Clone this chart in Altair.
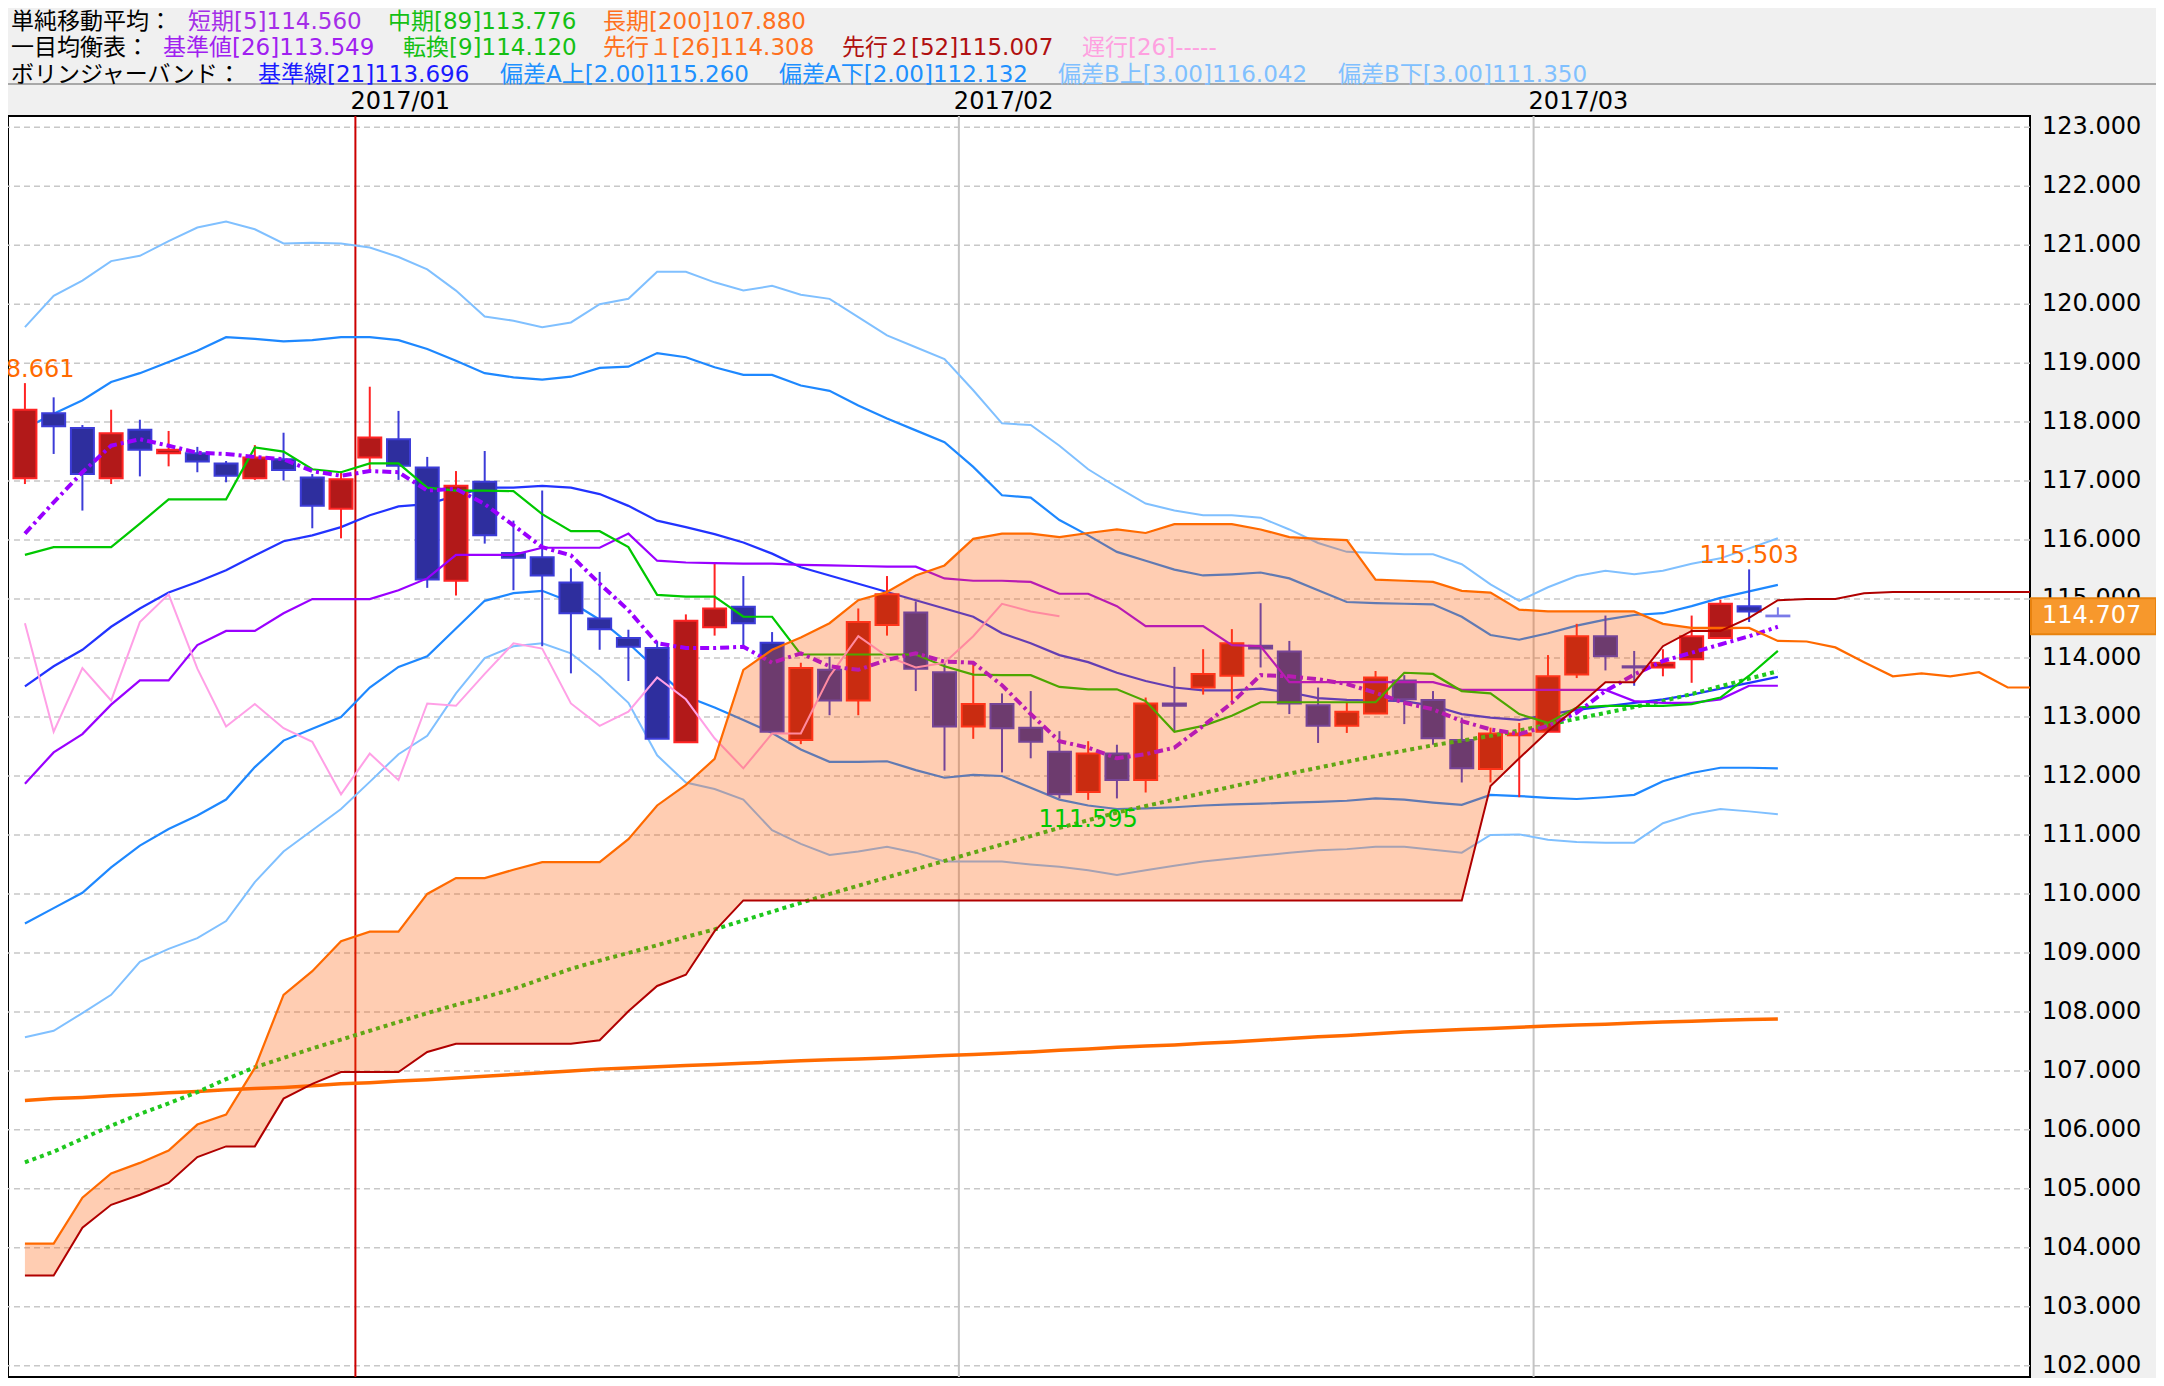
import altair as alt
import pandas as pd

# ---------------- data ----------------
opens = [117.05, 118.15, 117.90, 117.05, 117.87, 117.47, 117.47, 117.30, 117.05, 117.37,
         117.06, 116.53, 117.40, 117.71, 117.23, 115.31, 116.99, 115.78, 115.71, 115.28,
         114.67, 114.34, 114.17, 112.57, 114.52, 114.87, 114.26, 112.61, 113.80, 113.28,
         114.56, 114.77, 113.76, 112.84, 113.22, 112.82, 112.41, 111.73, 112.38, 111.93,
         113.23, 113.50, 113.70, 114.21, 114.11, 113.20, 112.85, 113.06, 113.62, 113.29,
         112.61, 112.12, 112.69, 112.75, 113.72, 114.37, 113.86, 113.84, 113.98, 114.34,
         114.88, 114.72]
highs = [118.661, 118.42, 117.95, 118.21, 118.04, 117.85, 117.58, 117.34, 117.61, 117.82,
         117.12, 117.17, 118.60, 118.19, 117.41, 117.17, 117.51, 116.33, 116.84, 115.52,
         115.46, 114.48, 114.28, 114.74, 115.60, 115.39, 114.44, 113.92, 114.02, 114.84,
         115.39, 114.96, 113.92, 113.92, 113.40, 113.44, 112.76, 112.59, 112.53, 113.33,
         113.85, 114.15, 114.49, 114.93, 114.29, 113.50, 113.24, 113.78, 113.71, 113.44,
         112.99, 112.82, 112.90, 114.05, 114.58, 114.72, 114.12, 114.15, 114.72, 114.99,
         115.503, 114.86]
lows = [116.95, 117.46, 116.50, 116.95, 117.08, 117.25, 117.15, 116.98, 117.02, 117.01,
        116.20, 116.03, 117.17, 117.02, 115.19, 115.06, 115.94, 115.15, 114.20, 113.74,
        114.14, 113.61, 112.63, 112.57, 114.38, 114.20, 112.75, 112.54, 113.03, 113.03,
        114.38, 113.44, 112.09, 112.63, 112.06, 112.30, 111.62, 111.595, 111.62, 111.72,
        112.75, 113.38, 113.21, 113.84, 113.05, 112.56, 112.73, 113.05, 112.88, 112.53,
        111.89, 111.89, 111.64, 112.75, 113.66, 113.79, 113.53, 113.69, 113.58, 114.34,
        114.61, 114.70]
closes = [118.21, 117.93, 117.12, 117.81, 117.53, 117.53, 117.33, 117.09, 117.40, 117.19,
          116.58, 117.03, 117.74, 117.26, 115.33, 116.92, 116.08, 115.70, 115.40, 114.76,
          114.49, 114.19, 112.63, 114.63, 114.84, 114.59, 112.75, 113.83, 113.28, 114.61,
          115.08, 113.82, 112.84, 113.22, 112.81, 112.58, 111.69, 112.38, 111.93, 113.23,
          113.19, 113.73, 114.25, 114.16, 113.23, 112.85, 113.09, 113.67, 113.30, 112.64,
          112.13, 112.72, 112.72, 113.69, 114.37, 114.03, 113.84, 113.92, 114.37, 114.92,
          114.79, 114.707]

sma5 = [116.11, 116.64, 117.15, 117.60, 117.71, 117.60, 117.48, 117.46, 117.41, 117.37,
        117.17, 117.09, 117.17, 117.15, 116.84, 116.87, 116.61, 116.25, 115.88, 115.74,
        115.26, 114.81, 114.25, 114.17, 114.17, 114.19, 113.92, 114.08, 113.86, 113.80,
        113.97, 114.08, 113.94, 113.92, 113.54, 113.05, 112.59, 112.48, 112.30, 112.37,
        112.48, 112.85, 113.24, 113.71, 113.69, 113.64, 113.56, 113.41, 113.24, 113.13,
        112.93, 112.79, 112.71, 112.85, 113.07, 113.44, 113.72, 113.95, 114.09, 114.23,
        114.37, 114.53]
sma89 = [105.45, 105.63, 105.85, 106.07, 106.27, 106.45, 106.64, 106.86, 107.06, 107.22,
         107.38, 107.53, 107.68, 107.83, 107.98, 108.12, 108.25, 108.39, 108.56, 108.73,
         108.87, 109.00, 109.13, 109.27, 109.40, 109.55, 109.70, 109.85, 110.00, 110.14,
         110.28, 110.42, 110.56, 110.70, 110.84, 110.98, 111.12, 111.25, 111.38, 111.49,
         111.60, 111.71, 111.82, 111.93, 112.04, 112.14, 112.24, 112.34, 112.43, 112.52,
         112.60, 112.68, 112.77, 112.87, 112.97, 113.07, 113.17, 113.27, 113.39, 113.52,
         113.65, 113.776]
sma200 = [106.50, 106.53, 106.55, 106.58, 106.60, 106.63, 106.65, 106.68, 106.70, 106.72,
          106.75, 106.78, 106.80, 106.83, 106.85, 106.88, 106.91, 106.94, 106.97, 107.00,
          107.03, 107.05, 107.07, 107.09, 107.11, 107.13, 107.15, 107.17, 107.19, 107.20,
          107.22, 107.24, 107.26, 107.28, 107.30, 107.32, 107.35, 107.37, 107.40, 107.42,
          107.44, 107.47, 107.49, 107.52, 107.55, 107.58, 107.60, 107.63, 107.66, 107.68,
          107.70, 107.72, 107.74, 107.76, 107.78, 107.79, 107.81, 107.83, 107.84, 107.86,
          107.87, 107.88]

kijun = [111.87, 112.40, 112.71, 113.21, 113.62, 113.62, 114.22, 114.46, 114.46, 114.76,
         115.00, 115.00, 115.00, 115.15, 115.35, 115.75, 115.75, 115.75, 115.87, 115.87,
         115.87, 116.11, 115.65, 115.62, 115.61, 115.60, 115.60, 115.58, 115.57, 115.56,
         115.55, 115.55, 115.35, 115.31, 115.31, 115.29, 115.09, 115.09, 114.88, 114.54,
         114.54, 114.54, 114.22, 114.20, 113.59, 113.59, 113.59, 113.59, 113.59, 113.59,
         113.46, 113.46, 113.46, 113.46, 113.46, 113.46, 113.27, 113.24, 113.24, 113.30,
         113.53, 113.53]
tenkan = [115.75, 115.88, 115.88, 115.88, 116.28, 116.69, 116.69, 116.69, 117.57, 117.50,
          117.20, 117.15, 117.30, 117.30, 116.89, 116.84, 116.84, 116.83, 116.44, 116.15,
          116.15, 115.88, 115.07, 115.04, 115.04, 114.70, 114.70, 114.06, 114.06, 114.06,
          114.06, 114.06, 113.86, 113.72, 113.71, 113.71, 113.51, 113.47, 113.47, 113.27,
          112.75, 112.85, 113.02, 113.25, 113.25, 113.25, 113.25, 113.25, 113.75, 113.73,
          113.44, 113.40, 113.05, 112.90, 113.16, 113.19, 113.19, 113.19, 113.22, 113.33,
          113.70, 114.12]
senkou1 = [104.07, 104.07, 104.85, 105.26, 105.44, 105.65, 106.09, 106.26, 107.05, 108.29,
           108.69, 109.20, 109.36, 109.36, 110.00, 110.27, 110.27, 110.41, 110.54, 110.54,
           110.54, 110.93, 111.50, 111.85, 112.29, 113.80, 114.14, 114.35, 114.59, 114.98,
           115.12, 115.40, 115.57, 116.02, 116.11, 116.11, 116.05, 116.12, 116.18, 116.12,
           116.27, 116.27, 116.27, 116.18, 116.05, 116.02, 116.00, 115.33, 115.31, 115.29,
           115.14, 115.11, 114.82, 114.79, 114.79, 114.79, 114.79, 114.58, 114.51, 114.51,
           114.51, 114.29, 114.28, 114.18, 113.93, 113.69, 113.74, 113.69, 113.76, 113.50,
           113.50]
senkou2 = [103.53, 103.53, 104.34, 104.73, 104.90, 105.10, 105.54, 105.72, 105.72, 106.53,
           106.78, 106.98, 106.98, 106.98, 107.32, 107.46, 107.46, 107.46, 107.46, 107.46,
           107.52, 108.01, 108.44, 108.63, 109.37, 109.89, 109.89, 109.89, 109.89, 109.89,
           109.89, 109.89, 109.89, 109.89, 109.89, 109.89, 109.89, 109.89, 109.89, 109.89,
           109.89, 109.89, 109.89, 109.89, 109.89, 109.89, 109.89, 109.89, 109.89, 109.89,
           109.89, 111.83, 112.30, 112.76, 113.16, 113.59, 113.59, 114.20, 114.46, 114.46,
           114.68, 114.98, 115.00, 115.00, 115.10, 115.12, 115.12, 115.12, 115.12, 115.12,
           115.12]

bb_mid = [113.52, 113.86, 114.14, 114.53, 114.84, 115.11, 115.29, 115.49, 115.74, 115.98,
          116.08, 116.22, 116.42, 116.57, 116.61, 116.75, 116.89, 116.89, 116.92, 116.89,
          116.78, 116.58, 116.33, 116.22, 116.10, 115.96, 115.77, 115.54, 115.40, 115.26,
          115.12, 114.98, 114.84, 114.70, 114.42, 114.25, 114.05, 113.93, 113.75, 113.61,
          113.50, 113.45, 113.45, 113.48, 113.42, 113.32, 113.29, 113.28, 113.27, 113.19,
          113.05, 112.99, 112.95, 113.04, 113.12, 113.18, 113.24, 113.30, 113.38, 113.48,
          113.58, 113.68]
bb_up2 = [117.89, 118.14, 118.37, 118.68, 118.83, 119.02, 119.21, 119.44, 119.41, 119.37,
          119.39, 119.44, 119.44, 119.39, 119.24, 119.04, 118.83, 118.76, 118.72, 118.77,
          118.92, 118.94, 119.17, 119.10, 118.93, 118.80, 118.80, 118.62, 118.53, 118.28,
          118.06, 117.86, 117.66, 117.24, 116.76, 116.72, 116.34, 116.08, 115.80, 115.65,
          115.50, 115.40, 115.42, 115.45, 115.35, 115.15, 114.95, 114.93, 114.92, 114.91,
          114.70, 114.39, 114.31, 114.42, 114.55, 114.65, 114.73, 114.76, 114.88, 115.02,
          115.13, 115.24]
bb_dn2 = [109.50, 109.76, 110.02, 110.45, 110.82, 111.10, 111.33, 111.60, 112.15, 112.60,
          112.80, 113.00, 113.50, 113.85, 114.03, 114.50, 114.97, 115.10, 115.14, 114.95,
          114.65, 114.25, 113.80, 113.35, 113.16, 112.95, 112.73, 112.45, 112.24, 112.24,
          112.25, 112.10, 111.97, 112.02, 112.00, 111.80, 111.60, 111.50, 111.44, 111.45,
          111.47, 111.50, 111.52, 111.53, 111.55, 111.56, 111.58, 111.62, 111.60, 111.55,
          111.51, 111.68, 111.66, 111.63, 111.61, 111.64, 111.68, 111.91, 112.05, 112.14,
          112.14, 112.13]
bb_up3 = [119.61, 120.14, 120.40, 120.73, 120.82, 121.07, 121.30, 121.40, 121.27, 121.03,
          121.04, 121.03, 120.96, 120.80, 120.59, 120.23, 119.79, 119.72, 119.61, 119.69,
          120.00, 120.09, 120.55, 120.55, 120.37, 120.23, 120.31, 120.16, 120.09, 119.78,
          119.47, 119.27, 119.07, 118.54, 117.98, 117.95, 117.60, 117.20, 116.90, 116.62,
          116.50, 116.42, 116.42, 116.38, 116.18, 115.95, 115.80, 115.78, 115.76, 115.76,
          115.59, 115.25, 114.97, 115.20, 115.39, 115.48, 115.42, 115.48, 115.60, 115.69,
          115.86, 116.03]
bb_dn3 = [107.57, 107.68, 107.98, 108.29, 108.85, 109.07, 109.25, 109.54, 110.20, 110.72,
          111.08, 111.44, 111.90, 112.37, 112.68, 113.40, 114.00, 114.20, 114.25, 114.08,
          113.69, 113.24, 112.35, 111.89, 111.78, 111.60, 111.08, 110.85, 110.66, 110.72,
          110.80, 110.70, 110.55, 110.55, 110.55, 110.50, 110.46, 110.40, 110.32, 110.40,
          110.48, 110.55, 110.60, 110.65, 110.70, 110.74, 110.76, 110.80, 110.80, 110.75,
          110.70, 111.00, 111.01, 110.92, 110.88, 110.87, 110.87, 111.20, 111.35, 111.44,
          111.40, 111.35]

chikou_shift = 25
month_labels = ["2017/01", "2017/02", "2017/03"]
month_pos = [11.5, 32.5, 52.5]
y_ticks = list(range(102, 124))
current_price = 114.707

marks_text = ["118.661", "115.503", "111.595"]
marks_idx = [0, 60, 37]
marks_val = [118.661, 115.503, 111.595]

header = [
    [("単純移動平均：", "#000000", 11), ("短期[5]114.560", "#a52ee8", 188),
     ("中期[89]113.776", "#14c014", 388), ("長期[200]107.880", "#ff7020", 603)],
    [("一目均衡表：", "#000000", 11), ("基準値[26]113.549", "#a020f0", 163),
     ("転換[9]114.120", "#14c014", 403), ("先行１[26]114.308", "#ff7020", 603),
     ("先行２[52]115.007", "#b01010", 842), ("遅行[26]-----", "#ffa0e0", 1082)],
    [("ボリンジャーバンド：", "#000000", 11), ("基準線[21]113.696", "#1a1aff", 258),
     ("偏差A上[2.00]115.260", "#2090ff", 500), ("偏差A下[2.00]112.132", "#2090ff", 779),
     ("偏差B上[3.00]116.042", "#80c0ff", 1058), ("偏差B下[3.00]111.350", "#80c0ff", 1338)],
]
header_y = [22, 48, 75]

# ---------------- layout ----------------
PW, PH = 2022, 1261
PAD_T, PAD_R = 108, 126
NUMF = "DejaVu Sans"
HF = "DejaVu Sans, Noto Sans CJK JP, sans-serif"

xs = alt.Scale(domain=[-0.415, 69.6], nice=False, zero=False)
ys = alt.Scale(domain=[101.81, 123.19], nice=False, zero=False)
one = pd.DataFrame({"a": [0]})

n = len(closes)
dirs = ["up" if c >= o else "down" for o, c in zip(opens, closes)]
dirs[-1] = "cur"
candles = pd.DataFrame({"idx": list(range(n)), "o": opens, "h": highs, "l": lows,
                        "c": closes, "d": dirs})

fill_scale = alt.Scale(domain=["up", "down", "cur"], range=["#b21919", "#2e2e9e", "#7a7ae8"])
stroke_scale = alt.Scale(domain=["up", "down", "cur"], range=["#ff2424", "#3c3cd8", "#7a7ae8"])

X = alt.X("idx:Q", scale=xs, axis=None)


def line(vals, color, width, dash=None, start=0):
    df = pd.DataFrame({"idx": list(range(start, start + len(vals))), "v": vals})
    kw = dict(color=color, strokeWidth=width, clip=True)
    if dash:
        kw["strokeDash"] = dash
    return alt.Chart(df).mark_line(**kw).encode(x=X, y=alt.Y("v:Q", scale=ys, axis=None))


def ptext(text, color, px, py, size=23, font=HF):
    return alt.Chart(one).mark_text(text=text, color=color, fontSize=size, font=font,
                                    align="left", baseline="middle").encode(
        x=alt.value(px), y=alt.value(py))


# horizontal dashed grid and right-hand price labels
ticks_df = pd.DataFrame({"t": y_ticks, "lab": [f"{t:.3f}" for t in y_ticks]})
grid = alt.Chart(ticks_df).mark_rule(strokeDash=[6, 4], color="#c8c8c8", strokeWidth=1.5).encode(
    y=alt.Y("t:Q", scale=ys, axis=None))
ylabels = alt.Chart(ticks_df).mark_text(align="left", baseline="middle", fontSize=24,
                                        font=NUMF, color="#000000").encode(
    x=alt.value(PW + 12), y=alt.Y("t:Q", scale=ys, axis=None), text="lab:N")

months = pd.DataFrame({"idx": month_pos, "lab": month_labels,
                       "col": ["#cc0000", "#c4c4c4", "#c4c4c4"]})
month_rules = alt.Chart(months).mark_rule(strokeWidth=2).encode(
    x=X, color=alt.Color("col:N", scale=None))
month_text = alt.Chart(months).mark_text(align="left", baseline="middle", dx=-5,
                                         fontSize=24, font=NUMF, color="#000000").encode(
    x=X, y=alt.value(-14), text="lab:N")

bb_layers = [
    line(bb_up3, "#80c0ff", 2), line(bb_dn3, "#80c0ff", 2),
    line(bb_up2, "#1e88ff", 2.2), line(bb_dn2, "#1e88ff", 2.2),
    line(bb_mid, "#2233ff", 2.2),
]

wicks = alt.Chart(candles).mark_rule(strokeWidth=2, clip=True).encode(
    x=X, y=alt.Y("l:Q", scale=ys, axis=None), y2="h:Q",
    color=alt.Color("d:N", scale=stroke_scale, legend=None))
bodies = alt.Chart(candles).mark_bar(size=23, strokeWidth=2, clip=True).encode(
    x=X, y=alt.Y("o:Q", scale=ys, axis=None), y2="c:Q",
    fill=alt.Fill("d:N", scale=fill_scale, legend=None),
    stroke=alt.Stroke("d:N", scale=stroke_scale, legend=None))

chikou = closes[chikou_shift:]
ind_layers = [
    line(sma200, "#ff6a00", 3.5),
    line(sma89, "#1ec81e", 4, dash=[4, 4]),
    line(kijun, "#9a00ff", 2.2),
    line(tenkan, "#00c800", 2.2),
    line(chikou, "#ffa0e6", 2),
    line(sma5, "#9a00ff", 4, dash=[9, 4, 3, 4]),
]

cloud_df = pd.DataFrame({"idx": list(range(len(senkou1))), "s1": senkou1,
                         "lo": [min(a, b) for a, b in zip(senkou1, senkou2)]})
cloud = alt.Chart(cloud_df).mark_area(color="#ff5b00", opacity=0.3, clip=True).encode(
    x=X, y=alt.Y("s1:Q", scale=ys, axis=None), y2="lo:Q")
sen_layers = [line(senkou1, "#ff6a00", 2.2), line(senkou2, "#b00000", 2)]

mk = pd.DataFrame({"idx": marks_idx, "v": marks_val, "t": marks_text,
                   "pos": ["top", "top", "bottom"],
                   "col": ["#ff6a00", "#ff6a00", "#00c800"]})
mark_hi = alt.Chart(mk[mk.pos == "top"]).mark_text(
    baseline="bottom", dy=-1, fontSize=24, font=NUMF, clip=True).encode(
    x=X, y=alt.Y("v:Q", scale=ys, axis=None), text="t:N", color=alt.Color("col:N", scale=None))
mark_lo = alt.Chart(mk[mk.pos == "bottom"]).mark_text(
    baseline="top", dy=8, fontSize=24, font=NUMF, clip=True).encode(
    x=X, y=alt.Y("v:Q", scale=ys, axis=None), text="t:N", color=alt.Color("col:N", scale=None))

price_df = pd.DataFrame({"p": [current_price], "lo": [current_price - 0.305],
                         "hi": [current_price + 0.305], "t": [f"{current_price:.3f}"]})
price_box = alt.Chart(price_df).mark_rect(fill="#f7982c", stroke="#e8820e", strokeWidth=2).encode(
    x=alt.value(PW + 1), x2=alt.value(PW + PAD_R),
    y=alt.Y("lo:Q", scale=ys, axis=None), y2="hi:Q")
price_txt = alt.Chart(price_df).mark_text(align="left", baseline="middle", fontSize=24,
                                          font=NUMF, color="#ffffff").encode(
    x=alt.value(PW + 12), y=alt.Y("p:Q", scale=ys, axis=None), text="t:N")

sep = alt.Chart(one).mark_rule(color="#a8a8a8", strokeWidth=2).encode(
    x=alt.value(-8), x2=alt.value(PW + PAD_R), y=alt.value(84 - 116))

head_layers = []
for row, yy in zip(header, header_y):
    for txt, col, px in row:
        head_layers.append(ptext(txt, col, px - 8, yy - 116))

chart = alt.layer(
    grid, month_rules, *bb_layers, wicks, bodies, *ind_layers, cloud, *sen_layers,
    mark_hi, mark_lo, ylabels, price_box, price_txt, month_text, sep, *head_layers
).properties(
    width=PW, height=PH, autosize="none",
    padding={"left": 0, "top": PAD_T, "right": PAD_R, "bottom": 1},
    background="#f0f0f0",
).configure_view(fill="#ffffff", stroke="#000000", strokeWidth=2)

chart.save("out.html", embed_options={"renderer": "svg", "actions": False})
